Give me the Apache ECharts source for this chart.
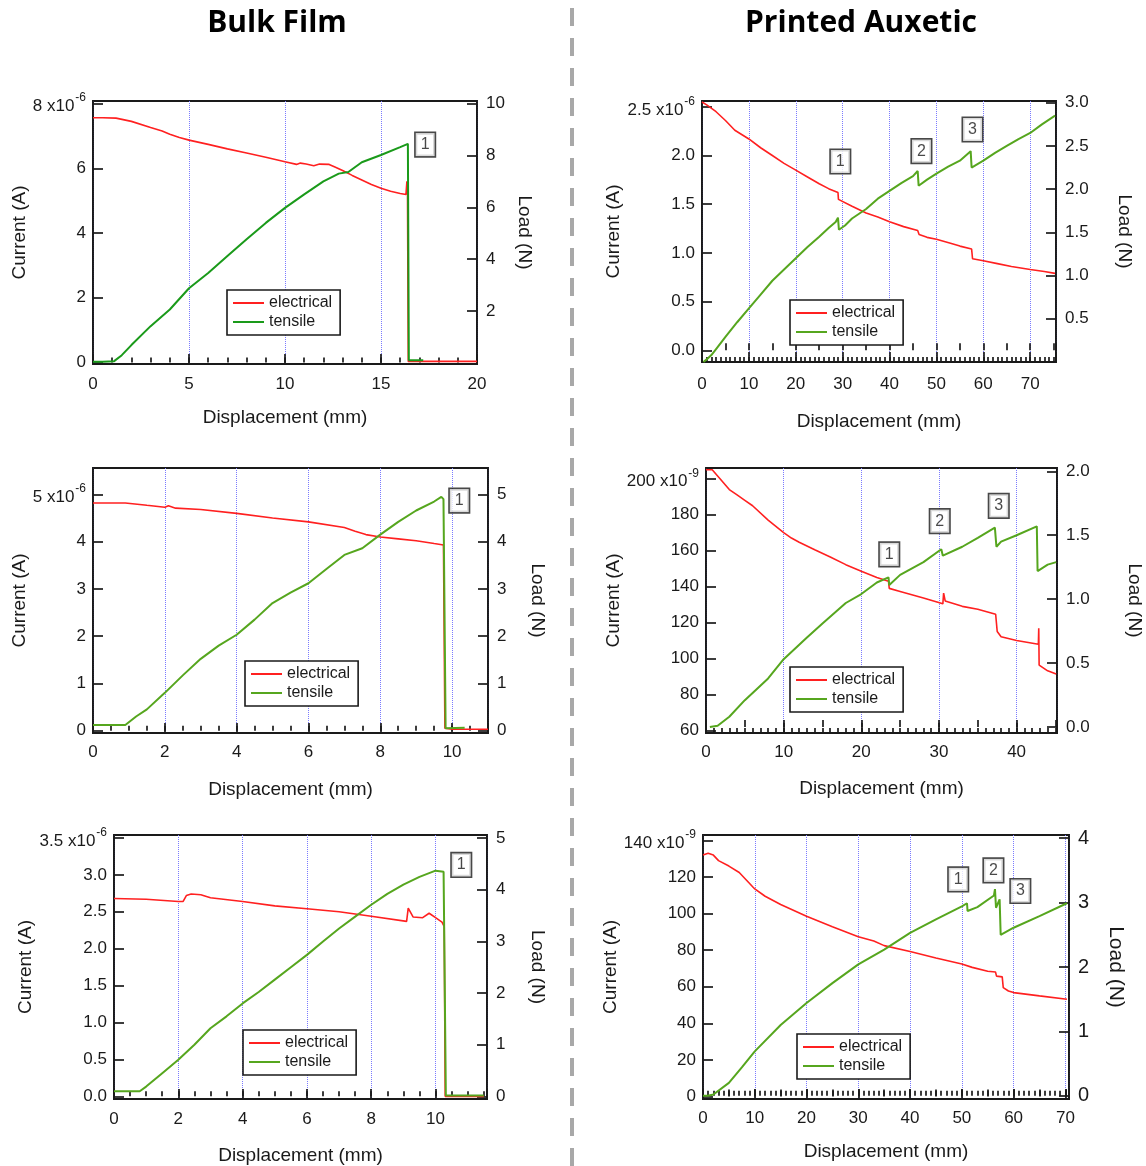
<!DOCTYPE html>
<html>
<head>
<meta charset="utf-8">
<script src="https://cdn.jsdelivr.net/npm/echarts@6/dist/echarts.min.js"></script>
<style>
  html, body { margin: 0; padding: 0; background: #fff; }
  #chart { width: 1146px; height: 1166px; }
</style>
</head>
<body>
<div id="chart"></div>
<script>
// ---------------- Measured curves: [displacement (mm), value] ----------------
// Bulk film, sample A  (current in units of 1e-6 A, load in N)
const bulkFilmAElectrical = [[0,7.56],[0.5,7.56],[1.2,7.55],[2,7.45],[3,7.26],[3.6,7.15],[4,7.05],[4.5,6.95],[5,6.87],[6,6.74],[7,6.6],[8,6.47],[9,6.34],[10,6.2],[10.6,6.12],[10.8,6.16],[11.1,6.13],[11.5,6.08],[11.8,6.13],[12.3,6.12],[12.6,6.04],[13,5.93],[13.5,5.78],[14,5.64],[14.5,5.5],[15,5.38],[15.5,5.29],[16,5.22],[16.3,5.19],[16.35,5.6],[16.38,5.3],[16.42,0.03],[17,0.03],[18,0.03],[20,0.03]];
const bulkFilmATensile = [[0,0.05],[0.5,0.05],[1.1,0.07],[1.5,0.3],[2,0.69],[3,1.42],[4,2.06],[5,2.88],[6,3.47],[7,4.12],[8,4.77],[9,5.4],[10,5.98],[11,6.5],[12,7.0],[12.8,7.3],[13.3,7.36],[14,7.74],[15,8.02],[16,8.32],[16.4,8.45],[16.45,0.1],[17.2,0.1]];
// Printed auxetic, sample A  (current in units of 1e-6 A, load in N)
const auxeticAElectrical = [[0,2.55],[1,2.52],[3,2.45],[5,2.36],[7,2.26],[10,2.17],[12.5,2.08],[15,2.0],[17.5,1.92],[20,1.85],[22.5,1.78],[25,1.71],[27,1.66],[29,1.62],[29.1,1.55],[32,1.48],[35,1.41],[37.5,1.37],[40,1.32],[43,1.27],[46,1.23],[46.3,1.19],[48,1.16],[50,1.14],[53,1.1],[55,1.07],[57.5,1.04],[57.7,0.94],[60,0.92],[63,0.89],[66,0.86],[70,0.83],[73,0.81],[75.3,0.79]];
const auxeticATensile = [[0.3,0.0],[1,0.03],[2,0.08],[3,0.15],[5,0.29],[7.5,0.46],[10,0.62],[12.5,0.78],[15,0.94],[17.5,1.07],[20,1.2],[22.5,1.33],[25,1.45],[27,1.55],[28.5,1.62],[29,1.67],[29.2,1.53],[30.5,1.58],[32,1.66],[35,1.77],[37.5,1.89],[40,1.98],[42.5,2.07],[45,2.15],[46,2.21],[46.2,2.04],[48,2.11],[50,2.18],[52.5,2.26],[55,2.33],[57.3,2.44],[57.5,2.25],[60,2.33],[62.5,2.42],[65,2.5],[67.5,2.58],[70,2.65],[72.5,2.75],[75.3,2.85]];
// Bulk film, sample B
const bulkFilmBElectrical = [[0,4.82],[0.9,4.82],[1.5,4.77],[2,4.73],[2.1,4.76],[2.3,4.71],[3,4.68],[4,4.6],[5,4.5],[6,4.42],[7,4.3],[7.3,4.22],[7.6,4.15],[8,4.1],[8.5,4.06],[9,4.02],[9.5,3.96],[9.76,3.93],[9.8,0.05],[10,0.03],[11,0.03]];
const bulkFilmBTensile = [[0,0.12],[0.9,0.12],[1.2,0.3],[1.5,0.45],[2,0.8],[2.5,1.17],[3,1.52],[3.5,1.8],[4,2.03],[4.5,2.35],[5,2.7],[5.5,2.92],[6,3.12],[6.5,3.42],[7,3.72],[7.5,3.86],[8,4.15],[8.5,4.42],[9,4.66],[9.5,4.85],[9.7,4.95],[9.76,4.9],[9.82,0.05],[10.35,0.06]];
// Printed auxetic, sample B  (current in units of 1e-9 A)
const auxeticBElectrical = [[0,205],[0.8,205],[2,199],[3,194],[4,191],[5,188],[6,185],[8,177],[10,170],[11,167],[12,164.7],[14,160.5],[16,156.5],[18,152.2],[20,148.5],[22,145],[23.5,143],[23.6,139],[25,137.3],[28,133.6],[30.5,130.4],[30.6,136.4],[30.8,132],[33,129],[35,127.4],[37.3,124.6],[37.5,115],[38,112.1],[40,110],[42.8,107.9],[42.85,116.8],[42.9,96.3],[44,93.1],[45.1,91.3]];
const auxeticBTensile = [[0.5,0.0],[1.5,0.01],[3,0.08],[5,0.21],[8,0.38],[10,0.53],[13,0.7],[15,0.81],[18,0.97],[20,1.04],[22,1.13],[23.5,1.17],[23.6,1.11],[25,1.19],[28,1.29],[30.3,1.39],[30.5,1.34],[33,1.41],[35,1.48],[37.2,1.56],[37.4,1.41],[38,1.45],[40,1.5],[42.6,1.57],[42.7,1.22],[44,1.27],[45.1,1.29]];
// Bulk film, sample C
const bulkFilmCElectrical = [[0,2.68],[1,2.67],[2,2.64],[2.15,2.64],[2.25,2.72],[2.4,2.74],[2.7,2.73],[3,2.69],[4,2.64],[5,2.58],[6,2.54],[7,2.5],[8,2.44],[9.1,2.37],[9.15,2.55],[9.3,2.43],[9.6,2.42],[9.8,2.48],[10,2.42],[10.2,2.36],[10.27,2.3],[10.3,0.0],[11.5,0.0]];
const bulkFilmCTensile = [[0,0.1],[0.8,0.1],[1,0.19],[1.5,0.45],[2,0.71],[2.5,1.0],[3,1.32],[3.5,1.55],[4,1.8],[4.5,2.02],[5,2.26],[5.5,2.5],[6,2.74],[6.5,3.0],[7,3.25],[7.5,3.48],[8,3.71],[8.5,3.92],[9,4.1],[9.5,4.25],[10,4.37],[10.25,4.35],[10.32,0.02],[11.5,0.02]];
// Printed auxetic, sample C  (current in units of 1e-9 A)
const auxeticCElectrical = [[0,132],[1,133],[2,132],[3,129],[5,126],[7,122.5],[10,113.5],[12,109.5],[15,105],[20,98.6],[25,92.8],[30,87.4],[33,85],[35,82.5],[40,79.3],[45,75.7],[50,72.4],[52,70.6],[55,68.5],[56.5,68.1],[56.7,65.8],[57.8,65.4],[58,59.5],[59,57.7],[60,56.8],[65,55],[70.3,53.2]];
const auxeticCTensile = [[0,0.0],[1,0.0],[2,0.02],[5,0.2],[7.5,0.44],[10,0.69],[15,1.1],[20,1.44],[25,1.75],[30,2.04],[35,2.27],[40,2.53],[45,2.74],[50,2.94],[51,2.99],[51.1,2.87],[53,2.93],[56.2,3.11],[56.4,3.21],[56.6,2.92],[57.3,3.05],[57.5,2.5],[60,2.61],[65,2.79],[70.3,2.99]];

// ---------------- Numbered failure events: [displacement, load, label] ----------------
const bulkFilmAEvents = [[17.3, 8.42, '1']];
const auxeticAEvents  = [[29.5, 2.32, '1'], [46.8, 2.44, '2'], [57.7, 2.69, '3']];
const bulkFilmBEvents = [[10.2, 4.87, '1']];
const auxeticBEvents  = [[23.6, 1.35, '1'], [30.1, 1.61, '2'], [37.7, 1.73, '3']];
const bulkFilmCEvents = [[10.8, 4.48, '1']];
const auxeticCEvents  = [[49.3, 3.36, '1'], [56.1, 3.5, '2'], [61.3, 3.18, '3']];

// ---------------- Tick labels ----------------
const bulkFilmADispTicks = [0, 5, 10, 15, 20];
const auxeticADispTicks  = [0, 10, 20, 30, 40, 50, 60, 70];
const bulkFilmBDispTicks = [0, 2, 4, 6, 8, 10];
const auxeticBDispTicks  = [0, 10, 20, 30, 40];
const bulkFilmCDispTicks = [0, 2, 4, 6, 8, 10];
const auxeticCDispTicks  = [0, 10, 20, 30, 40, 50, 60, 70];

const bulkFilmACurrentTicks = [0, 2, 4, 6, 8];
const auxeticACurrentTicks  = [0, 0.5, 1, 1.5, 2, 2.5];
const bulkFilmBCurrentTicks = [0, 1, 2, 3, 4, 5];
const auxeticBCurrentTicks  = [60, 80, 100, 120, 140, 160, 180, 200];
const bulkFilmCCurrentTicks = [0, 0.5, 1, 1.5, 2, 2.5, 3, 3.5];
const auxeticCCurrentTicks  = [0, 20, 40, 60, 80, 100, 120, 140];

const bulkFilmALoadTicks = [2, 4, 6, 8, 10];
const auxeticALoadTicks  = [0.5, 1, 1.5, 2, 2.5, 3];
const bulkFilmBLoadTicks = [0, 1, 2, 3, 4, 5];
const auxeticBLoadTicks  = [0, 0.5, 1, 1.5, 2];
const bulkFilmCLoadTicks = [0, 1, 2, 3, 4, 5];
const auxeticCLoadTicks  = [0, 1, 2, 3, 4];

// ---------------- Styling / layout ----------------
const FONT = '"Liberation Sans", Arial, sans-serif';
const INK = '#1a1a1a';
const RED = '#ff2020';
const GREEN_DARK = '#1a9a1a';
const GREEN = '#56a61e';

const panels = [
  { grid: {left: 93, top: 101, width: 384, height: 263},
    x: {max: 20, major: 5, minor: 1, labels: bulkFilmADispTicks, margin: 12, nameGap: 44},
    cur: {min: -0.05, max: 8.08, ticks: bulkFilmACurrentTicks, dec: 0, exp: '-6', nameGap: 62},
    load: {min: -0.04, max: 10.1, ticks: bulkFilmALoadTicks, dec: 0, nameGap: 38},
    electrical: bulkFilmAElectrical, tensile: bulkFilmATensile, events: bulkFilmAEvents,
    green: GREEN_DARK, legend: {left: 227, top: 290} },
  { grid: {left: 702, top: 101, width: 354, height: 261},
    x: {max: 75.5, major: 10, mid: 5, minor: 1, labels: auxeticADispTicks, margin: 14, nameGap: 50},
    cur: {min: -0.12, max: 2.56, ticks: auxeticACurrentTicks, dec: 1, exp: '-6', nameGap: 74},
    load: {min: 0, max: 3.02, ticks: auxeticALoadTicks, dec: 1, nameGap: 59},
    electrical: auxeticAElectrical, tensile: auxeticATensile, events: auxeticAEvents,
    green: GREEN, legend: {left: 790, top: 300} },
  { grid: {left: 93, top: 468, width: 395, height: 265},
    x: {max: 11, major: 2, minor: 0.5, labels: bulkFilmBDispTicks, margin: 11, nameGap: 47},
    cur: {min: -0.05, max: 5.56, ticks: bulkFilmBCurrentTicks, dec: 0, exp: '-6', nameGap: 55},
    load: {min: -0.05, max: 5.56, ticks: bulkFilmBLoadTicks, dec: 0, nameGap: 40},
    electrical: bulkFilmBElectrical, tensile: bulkFilmBTensile, events: bulkFilmBEvents,
    green: GREEN, legend: {left: 245, top: 661} },
  { grid: {left: 706, top: 468, width: 351, height: 265},
    x: {max: 45.2, major: 10, mid: 5, minor: 1, labels: auxeticBDispTicks, margin: 11, nameGap: 46},
    cur: {min: 58.5, max: 206, ticks: auxeticBCurrentTicks, dec: 0, exp: '-9', nameGap: 78},
    load: {min: -0.047, max: 2.026, ticks: auxeticBLoadTicks, dec: 1, nameGap: 68},
    electrical: auxeticBElectrical, tensile: auxeticBTensile, events: auxeticBEvents,
    green: GREEN, legend: {left: 790, top: 667} },
  { grid: {left: 114, top: 835, width: 373, height: 264},
    x: {max: 11.6, major: 2, minor: 0.5, labels: bulkFilmCDispTicks, margin: 12, nameGap: 47},
    cur: {min: -0.036, max: 3.54, ticks: bulkFilmCCurrentTicks, dec: 1, exp: '-6', nameGap: 69},
    load: {min: -0.05, max: 5.06, ticks: bulkFilmCLoadTicks, dec: 0, nameGap: 41},
    electrical: bulkFilmCElectrical, tensile: bulkFilmCTensile, events: bulkFilmCEvents,
    green: GREEN, legend: {left: 243, top: 1030} },
  { grid: {left: 703, top: 835, width: 366, height: 264},
    x: {max: 70.7, major: 10, mid: 5, minor: 1, labels: auxeticCDispTicks, margin: 11, nameGap: 43},
    cur: {min: -1.4, max: 143, ticks: auxeticCCurrentTicks, dec: 0, exp: '-9', nameGap: 74},
    load: {min: -0.05, max: 4.05, ticks: auxeticCLoadTicks, dec: 0, nameGap: 36, fontSize: 20, nameSize: 21},
    electrical: auxeticCElectrical, tensile: auxeticCTensile, events: auxeticCEvents,
    green: GREEN, legend: {left: 797, top: 1034} }
];

const tickLine = {color: INK, width: 1.7};
const axisLineStyle = {color: INK, width: 1.8};
const nameStyle = (size) => ({fontFamily: FONT, fontSize: size || 19, color: INK});

function tickOnlyAxis(gridIndex, max, interval, length) {
  return {
    gridIndex, type: 'value', min: 0, max, interval, position: 'bottom',
    axisLine: {show: false}, axisLabel: {show: false}, splitLine: {show: false},
    axisTick: {show: true, inside: true, length, lineStyle: tickLine}
  };
}

const grids = [], xAxes = [], yAxes = [], series = [], legends = [];

panels.forEach((p, i) => {
  grids.push(Object.assign({
    show: true, borderColor: INK, borderWidth: 1.8, backgroundColor: 'rgba(0,0,0,0)',
    containLabel: false, outerBoundsMode: 'none'
  }, p.grid));

  const xi = xAxes.length;
  xAxes.push({
    gridIndex: i, type: 'value', min: 0, max: p.x.max, interval: p.x.major, position: 'bottom',
    name: 'Displacement (mm)', nameLocation: 'middle', nameGap: p.x.nameGap, nameTextStyle: nameStyle(),
    axisLine: {show: true, onZero: false, lineStyle: axisLineStyle},
    axisTick: {show: true, inside: true, length: 10, lineStyle: tickLine},
    axisLabel: {customValues: p.x.labels, fontFamily: FONT, fontSize: 17, color: INK, margin: p.x.margin},
    splitLine: {show: true, lineStyle: {color: '#7a7aff', type: 'dotted', width: 1}}
  });
  if (p.x.mid) xAxes.push(tickOnlyAxis(i, p.x.max, p.x.mid, 7));
  xAxes.push(tickOnlyAxis(i, p.x.max, p.x.minor, 5));

  const topCur = p.cur.ticks[p.cur.ticks.length - 1];
  const yl = yAxes.length;
  yAxes.push({
    gridIndex: i, type: 'value', position: 'left', min: p.cur.min, max: p.cur.max,
    name: 'Current (A)', nameLocation: 'middle', nameGap: p.cur.nameGap, nameRotate: 90, nameTextStyle: nameStyle(),
    axisLine: {show: true, onZero: false, lineStyle: axisLineStyle},
    axisTick: {show: true, inside: true, length: 10, customValues: p.cur.ticks, lineStyle: tickLine},
    axisLabel: {
      customValues: p.cur.ticks, fontFamily: FONT, fontSize: 17, color: INK, margin: 7,
      formatter: (v) => {
        const s = v.toFixed(p.cur.dec);
        return Math.abs(v - topCur) < 1e-9 ? '{b|' + s + ' x10}{s|' + p.cur.exp + '}' : s;
      },
      rich: {
        b: {fontFamily: FONT, fontSize: 17, color: INK, verticalAlign: 'bottom'},
        s: {fontFamily: FONT, fontSize: 12, color: INK, verticalAlign: 'top', padding: [0, 0, 11, 1]}
      }
    },
    splitLine: {show: false}
  });
  const yr = yAxes.length;
  yAxes.push({
    gridIndex: i, type: 'value', position: 'right', min: p.load.min, max: p.load.max,
    name: 'Load (N)', nameLocation: 'middle', nameGap: p.load.nameGap, nameRotate: -90,
    nameTextStyle: nameStyle(p.load.nameSize),
    axisLine: {show: true, onZero: false, lineStyle: axisLineStyle},
    axisTick: {show: true, inside: true, length: 10, customValues: p.load.ticks, lineStyle: tickLine},
    axisLabel: {
      customValues: p.load.ticks, fontFamily: FONT, fontSize: p.load.fontSize || 17, color: INK, margin: 9,
      formatter: (v) => v.toFixed(p.load.dec)
    },
    splitLine: {show: false}
  });

  series.push({
    type: 'line', name: 'electrical', xAxisIndex: xi, yAxisIndex: yl, data: p.electrical,
    symbol: 'none', showSymbol: false, lineStyle: {color: RED, width: 1.6}, itemStyle: {color: RED}, z: 3
  });
  series.push({
    type: 'line', name: 'tensile', xAxisIndex: xi, yAxisIndex: yr, data: p.tensile,
    symbol: 'none', showSymbol: false, lineStyle: {color: p.green, width: 2}, itemStyle: {color: p.green}, z: 4
  });
  series.push({
    type: 'scatter', name: 'events ' + i, xAxisIndex: xi, yAxisIndex: yr, data: p.events,
    symbolSize: 0, z: 6,
    label: {
      show: true, position: 'inside', formatter: (d) => d.data[2],
      fontFamily: FONT, fontSize: 16, color: INK, backgroundColor: '#fff',
      borderColor: INK, borderWidth: 1.6, padding: [4, 5, 3, 5]
    }
  });

  legends.push({
    left: p.legend.left, top: p.legend.top, orient: 'vertical', selectedMode: false,
    borderColor: INK, borderWidth: 1.6, backgroundColor: '#fff', padding: [5, 8, 5, 6],
    itemWidth: 31, itemHeight: 2, itemGap: 3,
    textStyle: {fontFamily: FONT, fontSize: 16, color: INK},
    data: [
      {name: 'electrical', icon: 'rect', itemStyle: {color: RED}},
      {name: 'tensile', icon: 'rect', itemStyle: {color: p.green}}
    ]
  });
});

const chart = echarts.init(document.getElementById('chart'));
chart.setOption({
  animation: false,
  backgroundColor: '#fff',
  grid: grids,
  xAxis: xAxes,
  yAxis: yAxes,
  legend: legends,
  series: series,
  graphic: [
    {type: 'line', silent: true, shape: {x1: 572, y1: 8, x2: 572, y2: 1166},
     style: {stroke: '#a8a8a8', lineWidth: 4, lineDash: [18, 12]}},
    {type: 'text', x: 277, y: 23, silent: true,
     style: {text: 'Bulk Film', fontFamily: '"Open Sans", sans-serif', fontWeight: 'bold', fontSize: 30,
             fill: '#000', align: 'center', verticalAlign: 'middle'}},
    {type: 'text', x: 861, y: 23, silent: true,
     style: {text: 'Printed Auxetic', fontFamily: '"Open Sans", sans-serif', fontWeight: 'bold', fontSize: 30,
             fill: '#000', align: 'center', verticalAlign: 'middle'}}
  ]
});
</script>
</body>
</html>
